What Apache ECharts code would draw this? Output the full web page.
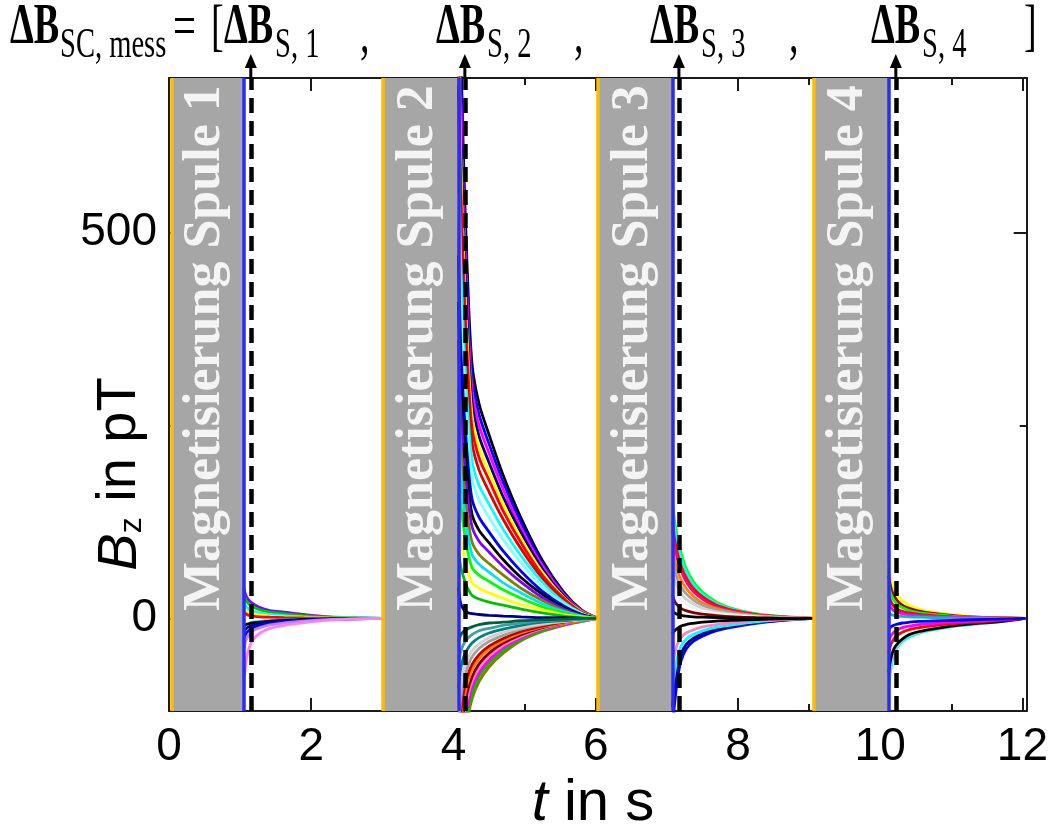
<!DOCTYPE html>
<html>
<head>
<meta charset="utf-8">
<script src="https://cdn.jsdelivr.net/npm/echarts@6/dist/echarts.min.js"></script>
<style>
  html, body { margin: 0; padding: 0; background: #fff; }
  #chart { width: 1051px; height: 827px; }
</style>
</head>
<body>
<div id="chart"></div>
<script>
// ---- axis ticks ----
const xTickLabels = [0, 2, 4, 6, 8, 10, 12];
const xMinorTicks = [1, 3, 5, 7, 9, 11];
const yTickLabels = [0, 500];
const yMinorTicks = [250];

// ---- magnetisation phases (t in s) ----
const coilNames = ['Magnetisierung Spule 1', 'Magnetisierung Spule 2', 'Magnetisierung Spule 3', 'Magnetisierung Spule 4'];
const magStart = [0.04, 3.0, 6.03, 9.06];
const magEnd = [1.05, 4.07, 7.08, 10.12];
const sampleTimes = [1.15, 4.16, 7.17, 10.22];

// ---- relaxation after coil 1 ----
const t1 = [1.05, 1.08, 1.12, 1.18, 1.28, 1.42, 1.62, 1.9, 2.25, 2.65, 3.0];
const b1 = [
  [40, 30, 24, 19, 14, 10, 8, 5, 2, 0.8, 0],
  [32, 24, 19, 15, 11, 8, 6, 3.5, 1.5, 0.6, 0],
  [22, 16, 12, 9, 7, 5, 3.5, 2, 1, 0.4, 0],
  [14, 10, 8, 6, 4.5, 3, 2, 1.2, 0.6, 0.2, 0],
  [8, 6, 4, 3, 2, 1.5, 1, 0.5, 0.2, 0, 0],
  [-12, -9, -7, -5, -4, -3, -2, -1, -0.5, -0.2, 0],
  [-10, -8, -7, -6, -5, -3.5, -2.5, -1.5, -0.8, -0.3, 0],
  [-18, -14, -11, -9, -7, -5, -3, -2, -1, -0.4, 0],
  [-28, -20, -16, -12, -9, -6.5, -4.5, -2.5, -1.2, -0.5, 0],
  [-40, -29, -22, -16, -12, -8.5, -6, -3.5, -1.5, -0.6, 0],
  [-90, -58, -40, -28, -19, -13, -9, -5.5, -2.2, -0.8, 0]
];
const c1 = ['#8000ff', '#00c000', '#00ffff', '#ffff00', '#ff0000', '#00e0ff', '#000000', '#000080', '#0000ff', '#c080ff', '#ff80ff'];

// ---- relaxation after coil 2 ----
const t2 = [4.07, 4.1, 4.14, 4.19, 4.26, 4.36, 4.5, 4.7, 4.95, 5.25, 5.55, 5.8, 6.03];
const b2 = [
  [1000, 760, 600, 460, 330, 278, 238, 185, 130, 75, 34, 11, 0],
  [950, 722, 570, 437, 313, 264, 226, 176, 124, 71, 32, 10, 0],
  [900, 684, 540, 414, 297, 250, 214, 167, 117, 68, 31, 10, 0],
  [850, 646, 510, 391, 280, 236, 202, 157, 111, 64, 29, 9, 0],
  [800, 608, 480, 368, 264, 222, 190, 148, 104, 60, 27, 9, 0],
  [750, 570, 450, 345, 247, 208, 179, 139, 98, 56, 26, 8, 0],
  [690, 524, 414, 317, 228, 192, 164, 128, 90, 52, 23, 8, 0],
  [620, 471, 372, 285, 205, 172, 148, 115, 81, 47, 21, 7, 0],
  [550, 418, 330, 253, 182, 153, 131, 102, 72, 41, 19, 6, 0],
  [470, 357, 282, 216, 155, 131, 112, 87, 61, 35, 16, 5, 0],
  [410, 312, 246, 189, 135, 114, 98, 76, 53, 31, 14, 5, 0],
  [360, 274, 216, 166, 119, 100, 86, 67, 47, 27, 12, 4, 0],
  [300, 228, 180, 138, 99, 83, 71, 56, 39, 23, 10, 3, 0],
  [250, 190, 150, 115, 83, 70, 60, 46, 33, 19, 9, 3, 0],
  [200, 152, 120, 92, 66, 56, 48, 37, 26, 15, 7, 2, 0],
  [140, 106, 84, 64, 46, 39, 33, 26, 18, 11, 5, 2, 0],
  [90, 68, 54, 41, 30, 25, 21, 17, 12, 7, 3, 1, 0],
  [40, 20, 12, 8, 6, 5, 4, 3, 2, 1, 1, 0, 0],
  [-300, -220, -170, -135, -105, -82, -63, -45, -29, -17, -9, -4, 0],
  [-276, -202, -156, -124, -97, -75, -58, -41, -27, -16, -8, -4, 0],
  [-255, -187, -145, -115, -89, -70, -54, -38, -25, -14, -8, -3, 0],
  [-234, -172, -133, -105, -82, -64, -49, -35, -23, -13, -7, -3, 0],
  [-216, -158, -122, -97, -76, -59, -45, -32, -21, -12, -6, -3, 0],
  [-192, -141, -109, -86, -67, -52, -40, -29, -19, -11, -6, -3, 0],
  [-171, -125, -97, -77, -60, -47, -36, -26, -17, -10, -5, -2, 0],
  [-144, -106, -82, -65, -50, -39, -30, -22, -14, -8, -4, -2, 0],
  [-120, -88, -68, -54, -42, -33, -25, -18, -12, -7, -4, -2, 0],
  [-90, -66, -51, -41, -32, -25, -19, -14, -9, -5, -3, -1, 0],
  [-60, -44, -34, -27, -21, -16, -13, -9, -6, -3, -2, -1, 0],
  [-30, -22, -17, -14, -11, -8, -6, -5, -3, -2, -1, 0, 0]
];
const c2 = ['#000000', '#0000ff', '#ff00ff', '#000080', '#ffff00', '#ff0000', '#e00000', '#00ffff', '#80ffff',
  '#0000ff', '#000000', '#8000ff', '#808000', '#00e0ff', '#00ff00', '#ffff00', '#00c000', '#000080',
  '#808000', '#00c000', '#ff00ff', '#ff80c0', '#800000', '#ff8000', '#c00000', '#a0a0a0', '#d0d0d0',
  '#008080', '#40a0a0', '#006040'];

// ---- relaxation after coil 3 ----
const t3 = [7.08, 7.11, 7.15, 7.2, 7.27, 7.37, 7.5, 7.7, 7.95, 8.25, 8.6, 9.06];
const b3 = [
  [150, 125, 105, 85, 65, 48, 34, 21, 12, 6, 2.5, 0],
  [140, 115, 96, 78, 60, 44, 31, 19, 11, 5.5, 2, 0],
  [125, 102, 84, 68, 53, 39, 28, 17, 10, 5, 2, 0],
  [115, 92, 76, 62, 48, 35, 25, 15, 9, 4.5, 1.8, 0],
  [95, 76, 62, 50, 39, 29, 20, 13, 7.5, 3.8, 1.5, 0],
  [80, 63, 51, 41, 32, 24, 17, 11, 6.5, 3.2, 1.3, 0],
  [65, 50, 40, 32, 25, 19, 13, 8.5, 5, 2.5, 1, 0],
  [50, 38, 30, 24, 19, 14, 10, 6.5, 4, 2, 0.8, 0],
  [30, 22, 17, 13, 10, 7.5, 5.5, 3.5, 2, 1, 0.4, 0],
  [10, 7, 5, 4, 3, 2, 1.5, 1, 0.5, 0.2, 0.1, 0],
  [-140, -110, -78, -55, -40, -30, -23, -16, -11, -6.5, -3, 0],
  [-115, -90, -64, -46, -34, -26, -20, -14, -9.5, -5.5, -2.5, 0],
  [-90, -70, -50, -36, -27, -21, -16, -11.5, -8, -4.5, -2, 0],
  [-60, -45, -33, -25, -19, -15, -11, -8, -5.5, -3, -1.5, 0],
  [-20, -16, -13, -10, -8, -6.5, -5, -3.5, -2.5, -1.5, -0.6, 0]
];
const c3 = ['#00ff00', '#00ffff', '#ff0000', '#ff0080', '#ff8000', '#a0a0a0', '#d0d0d0', '#f0f0f0', '#800000', '#000000',
  '#0000ff', '#000080', '#00ffff', '#ff80c0', '#000000'];

// ---- relaxation after coil 4 ----
const t4 = [10.12, 10.15, 10.19, 10.24, 10.31, 10.41, 10.55, 10.75, 11.0, 11.3, 11.65, 12.04];
const b4 = [
  [70, 50, 38, 30, 23, 17, 12, 8, 5, 2.5, 1, 0],
  [55, 40, 30, 23, 17, 13, 9.5, 6.5, 4, 2, 0.8, 0],
  [45, 32, 24, 18, 14, 10, 7, 5, 3, 1.5, 0.6, 0],
  [30, 22, 16, 12, 9, 7, 5, 3.5, 2, 1, 0.4, 0],
  [20, 14, 10, 8, 6, 4.5, 3.5, 2.5, 1.5, 0.7, 0.3, 0],
  [8, 5, 4, 3, 2.5, 2, 1.5, 1, 0.5, 0.3, 0.1, 0],
  [-90, -65, -48, -38, -30, -24, -19, -15, -11, -8, -5, 0],
  [-80, -58, -44, -35, -28, -22, -18, -14, -10.5, -7.5, -4.5, 0],
  [-70, -52, -40, -33, -27, -21, -17, -13.5, -10, -7, -4.5, 0],
  [-45, -34, -27, -22, -18, -14.5, -12, -9.5, -7, -5, -3, 0],
  [-30, -23, -18, -15, -12, -10, -8, -6.5, -5, -3.5, -2, 0],
  [-15, -11, -9, -7.5, -6, -5, -4, -3.2, -2.5, -1.8, -1, 0]
];
const c4 = ['#ffff00', '#a00000', '#00ff00', '#ff0000', '#ff00ff', '#00c0c0',
  '#00ffff', '#c0c0c0', '#000000', '#ff0000', '#ff00ff', '#0000ff'];

// ---- fonts ----
const sansNarrow = '"Liberation Sans Narrow","Arial Narrow","Liberation Sans",Arial,sans-serif';
const sans = '"Liberation Sans",Arial,sans-serif';
const serif = '"Liberation Serif","Times New Roman",serif';
const frameColor = '#1a1a1a';

function curveSeries(times, values, colors) {
  return values.map((vals, i) => ({
    type: 'line',
    data: vals.map((v, j) => [times[j], v]),
    showSymbol: false,
    symbol: 'none',
    smooth: 0.3,
    clip: true,
    silent: true,
    z: 3,
    lineStyle: { color: colors[i], width: 2.8 }
  }));
}

function tickAxis(dim, position, values, len, showLabel, showLine) {
  const base = {
    type: 'value',
    position: position,
    splitLine: { show: false },
    axisLine: { show: showLine, onZero: false, lineStyle: { color: frameColor, width: 2 } },
    axisTick: { show: true, inside: true, length: len, customValues: values, lineStyle: { color: frameColor, width: 2 } },
    axisLabel: showLabel
      ? { show: true, customValues: values, fontSize: 46, fontFamily: sansNarrow, color: '#000', margin: dim === 'x' ? 13 : 12 }
      : { show: false }
  };
  if (dim === 'x') { base.min = 0; base.max = 12.06; } else { base.min = -120; base.max = 700; }
  return base;
}

const series = [
  {
    type: 'line', data: [], z: 1, silent: true,
    markArea: {
      silent: true,
      itemStyle: { color: '#a6a6a6' },
      data: magStart.map((s, i) => [{ xAxis: s }, { xAxis: magEnd[i] }])
    }
  },
  ...curveSeries(t1, b1, c1),
  ...curveSeries(t2, b2, c2),
  ...curveSeries(t3, b3, c3),
  ...curveSeries(t4, b4, c4),
  {
    type: 'line', data: [], z: 6, silent: true,
    markLine: {
      silent: true,
      symbol: ['none', 'none'],
      label: { show: false },
      data: [
        ...magStart.map(x => ({ xAxis: x, lineStyle: { color: '#ffbb00', width: 3.5, type: 'solid' } })),
        ...magEnd.map(x => ({ xAxis: x, lineStyle: { color: '#2a2aff', width: 3.5, type: 'solid' } })),
        ...sampleTimes.map(x => ({ xAxis: x, lineStyle: { color: '#000', width: 4.5, type: [15, 8] } }))
      ]
    }
  }
];

const option = {
  animation: false,
  backgroundColor: '#fff',
  grid: { left: 169, right: 19, top: 78, bottom: 116 },
  xAxis: [
    tickAxis('x', 'bottom', xTickLabels, 13, true, true),
    tickAxis('x', 'bottom', xMinorTicks, 7, false, false),
    tickAxis('x', 'top', xTickLabels, 13, false, true),
    tickAxis('x', 'top', xMinorTicks, 7, false, false)
  ],
  yAxis: [
    tickAxis('y', 'left', yTickLabels, 13, true, true),
    tickAxis('y', 'left', yMinorTicks, 7, false, false),
    tickAxis('y', 'right', yTickLabels, 13, false, true),
    tickAxis('y', 'right', yMinorTicks, 7, false, false)
  ],
  series: series
};

const chart = echarts.init(document.getElementById('chart'));
chart.setOption(option);

const px = t => chart.convertToPixel({ xAxisIndex: 0 }, t);
const py = v => chart.convertToPixel({ yAxisIndex: 0 }, v);

const graphics = [];

// arrows marking the sampling instants
sampleTimes.forEach(t => {
  const x = px(t), top = py(700);
  graphics.push({ type: 'line', z: 20, shape: { x1: x, y1: top, x2: x, y2: top - 12 }, style: { stroke: '#000', lineWidth: 3 } });
  graphics.push({ type: 'polygon', z: 20, shape: { points: [[x - 6, top - 10], [x + 6, top - 10], [x, top - 24]] }, style: { fill: '#000' } });
});

// labels inside the magnetisation phases
coilNames.forEach((name, i) => {
  const cx = (px(magStart[i]) + px(magEnd[i])) / 2 - 2;
  graphics.push({
    type: 'text', z: 20, x: cx, y: py(350), rotation: Math.PI / 2,
    style: { text: name, fill: '#f4f4f4', font: 'bold 52px ' + serif, align: 'center', verticalAlign: 'middle' }
  });
});

// measurement vector header
const sq = 0.68;
function headText(x, y, text, size, weight) {
  return {
    type: 'text', z: 20, x: x, y: y, scaleX: sq, scaleY: 1,
    style: { text: text, fill: '#000', font: weight + ' ' + size + 'px ' + serif, align: 'left', verticalAlign: 'middle' }
  };
}
const mainY = 29, subY = 46;
graphics.push(headText(10, mainY, 'ΔB', 56, 'bold'));
graphics.push(headText(60, subY, 'SC, mess', 42, 'normal'));
graphics.push(headText(173, mainY, '=', 60, 'normal'));
graphics.push(headText(211, mainY, '[', 56, 'normal'));
[[224, 275, 'S, 1', 360], [436, 487, 'S, 2', 574], [650, 701, 'S, 3', 789], [871, 922, 'S, 4']].forEach(p => {
  graphics.push(headText(p[0], mainY, 'ΔB', 56, 'bold'));
  graphics.push(headText(p[1], subY, p[2], 42, 'normal'));
  if (p[3] !== undefined) graphics.push(headText(p[3], mainY + 8, ',', 56, 'normal'));
});
graphics.push(headText(1024, mainY, ']', 56, 'normal'));

// axis titles
graphics.push({
  type: 'text', x: 118, y: 474, rotation: Math.PI / 2, z: 20,
  style: {
    text: '{b|B}{z|z}{n| in pT}',
    align: 'center', verticalAlign: 'middle',
    rich: {
      b: { font: 'italic 56px ' + sans, fill: '#000', lineHeight: 60, verticalAlign: 'bottom' },
      z: { font: '32px ' + sans, fill: '#000', lineHeight: 40, verticalAlign: 'bottom' },
      n: { font: '56px ' + sans, fill: '#000', lineHeight: 60, verticalAlign: 'bottom' }
    }
  }
});
graphics.push({
  type: 'text', x: 593, y: 803, z: 20,
  style: {
    text: '{t|t}{n| in s}',
    align: 'center', verticalAlign: 'middle',
    rich: {
      t: { font: 'italic 58px ' + sans, fill: '#000', lineHeight: 60, verticalAlign: 'bottom' },
      n: { font: '58px ' + sans, fill: '#000', lineHeight: 60, verticalAlign: 'bottom' }
    }
  }
});

chart.setOption({ graphic: graphics });
</script>
</body>
</html>
